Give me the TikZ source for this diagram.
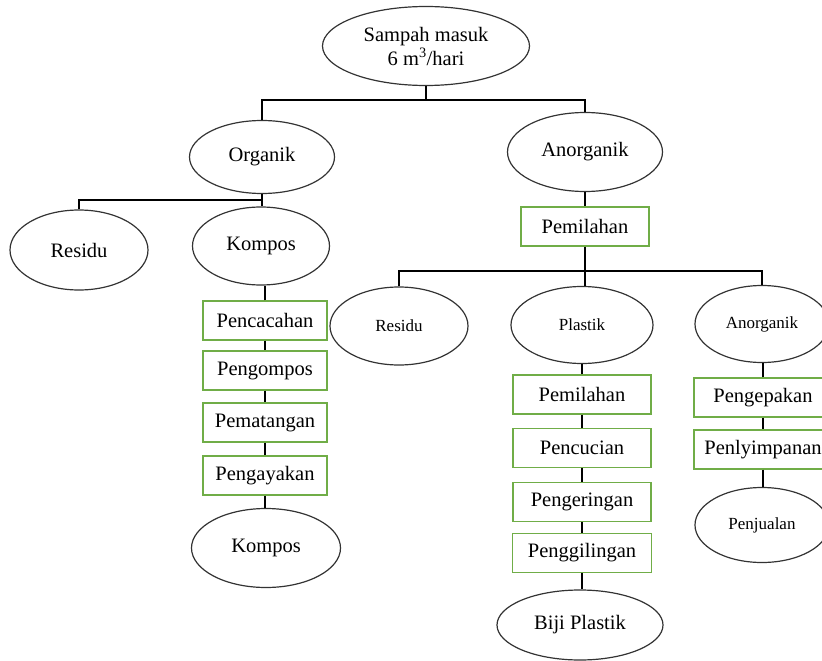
\documentclass[tikz,border=0pt]{standalone}
\usepackage{fontspec}
\setmainfont{Liberation Serif}
\usetikzlibrary{shapes.geometric}
\definecolor{boxgreen}{RGB}{112,173,71}
\tikzset{
  ell/.style={ellipse, draw=black!80, line width=1.2pt, inner sep=0pt, font=\fontsize{20.5}{23}\selectfont},
  ellsmall/.style={ell, font=\fontsize{17}{20}\selectfont},
  procbox/.style={rectangle, draw=boxgreen, line width=1.3pt, inner sep=0pt, minimum height=39pt, font=\fontsize{20.5}{23}\selectfont},
  conn/.style={draw=black, line width=1.4pt}
}
\begin{document}
\begin{tikzpicture}[x=1pt,y=1pt]
\useasboundingbox (0,0) rectangle (822,-661);
% top level
\node[ell, minimum width=207pt, minimum height=79pt, align=center] (root) at (426,-46) {Sampah masuk\\[1pt]6 m\textsuperscript{3}/hari};
\node[ell, minimum width=145pt, minimum height=73pt] (org) at (262,-157) {Organik};
\node[ell, minimum width=155pt, minimum height=79pt] (anorg) at (585,-152) {Anorganik};
% organic branch
\node[ell, minimum width=138pt, minimum height=80pt] (res1) at (79,-250) {Residu};
\node[ell, minimum width=137pt, minimum height=78pt] (komp1) at (261,-246) {Kompos};
\node[procbox, minimum width=124pt] (ob1) at (265,-320.5) {Pencacahan};
\node[procbox, minimum width=124pt] (ob2) at (265,-370.5) {Pengompos};
\node[procbox, minimum width=124pt] (ob3) at (265,-422.5) {Pematangan};
\node[procbox, minimum width=124pt] (ob4) at (265,-475.5) {Pengayakan};
\node[ell, minimum width=149pt, minimum height=79pt] (komp2) at (266,-548) {Kompos};
% inorganic branch
\node[procbox, minimum width=128pt] (pem) at (585,-226.5) {Pemilahan};
\node[ellsmall, minimum width=138pt, minimum height=78pt] (res2) at (399,-326) {Residu};
\node[ellsmall, minimum width=142pt, minimum height=77pt] (plast) at (582,-325) {Plastik};
\node[ellsmall, minimum width=134pt, minimum height=77pt] (anorg2) at (762,-324) {Anorganik};
\node[procbox, minimum width=138pt] (pb1) at (582,-394.5) {Pemilahan};
\node[procbox, minimum width=138pt] (pb2) at (582,-448) {Pencucian};
\node[procbox, minimum width=138pt] (pb3) at (582,-502) {Pengeringan};
\node[procbox, minimum width=139pt] (pb4) at (582,-553) {Penggilingan};
\node[ell, minimum width=166pt, minimum height=70pt] (biji) at (580,-625) {Biji Plastik};
\node[procbox, minimum width=138pt] (ab1) at (763,-397.5) {Pengepakan};
\node[procbox, minimum width=138pt] (ab2) at (763,-449.5) {Penlyimpanan};
\node[ellsmall, minimum width=134pt, minimum height=75pt] (penj) at (762,-525) {Penjualan};
% junctions
\coordinate (j1) at (426,-100);
\coordinate (j2) at (262,-200);
\coordinate (j3) at (585,-271);
% connectors
\draw[conn] (root.south) -- (j1);
\draw[conn] (org.north) |- (j1) -| (anorg.north);
\draw[conn] (org.south) -- (j2);
\draw[conn] (res1.north) |- (j2) -- (komp1.north -| j2);
\draw[conn] (ob1.north) -- (ob1.north |- komp1.south);
\draw[conn] (ob1.south) -- (ob2.north);
\draw[conn] (ob2.south) -- (ob3.north);
\draw[conn] (ob3.south) -- (ob4.north);
\draw[conn] (ob4.south) -- (ob4.south |- komp2.north);
\draw[conn] (anorg.south) -- (pem.north);
\draw[conn] (pem.south) -- (j3) -- (j3 |- plast.north);
\draw[conn] (res2.north) |- (j3) -| (anorg2.north);
\draw[conn] (pb1.north) -- (pb1.north |- plast.south);
\draw[conn] (pb1.south) -- (pb2.north);
\draw[conn] (pb2.south) -- (pb3.north);
\draw[conn] (pb3.south) -- (pb4.north);
\draw[conn] (pb4.south) -- (pb4.south |- biji.north);
\draw[conn] (ab1.north) -- (ab1.north |- anorg2.south);
\draw[conn] (ab1.south) -- (ab2.north);
\draw[conn] (ab2.south) -- (ab2.south |- penj.north);
\end{tikzpicture}
\end{document}
